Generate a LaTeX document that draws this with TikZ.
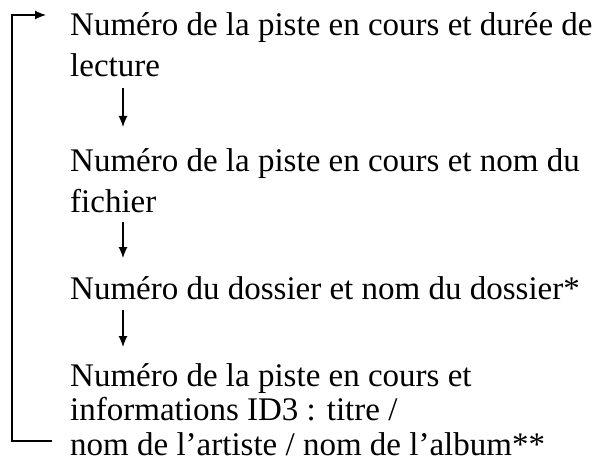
\documentclass[tikz,border=0pt]{standalone}
\usepackage{fontspec}
\setmainfont{Liberation Serif}
\usetikzlibrary{arrows.meta}

\tikzset{
    line/.style={anchor=base west, inner sep=0pt, font=\fontsize{33}{38}\selectfont},
    flow/.style={line width=1.2pt, -{Latex[length=11pt,width=9pt]}}
}

\begin{document}
\begin{tikzpicture}[x=1pt, y=1pt]
    \useasboundingbox (0, 0) rectangle (593, -462);
    \node[line] (a1) at (70, -36) {Numéro de la piste en cours et durée de};
    \node[line] (a2) at (70, -77) {lecture};
    \node[line] (b1) at (70, -172) {Numéro de la piste en cours et nom du};
    \node[line] (b2) at (70, -212) {fichier};
    \node[line] (c1) at (70, -299) {Numéro du dossier et nom du dossier*};
    \node[line] (d1) at (70, -386) {Numéro de la piste en cours et};
    \node[line] (d2) at (70, -420) {informations ID3 : titre /};
    \node[line] (d3) at (70, -455) {nom de l’artiste / nom de l’album**};
    \coordinate (ab1) at (123, -88);
    \coordinate (ab2) at (123, -127);
    \coordinate (bc1) at (123, -222);
    \coordinate (bc2) at (123, -258);
    \coordinate (cd1) at (123, -310);
    \coordinate (cd2) at (123, -347);
    \coordinate (back) at (52, -441);
    \coordinate (loop) at (12, -441);
    \coordinate (top) at (12, -15);
    \coordinate (start) at (46, -15);
    \draw[flow] (ab1) -- (ab2);
    \draw[flow] (bc1) -- (bc2);
    \draw[flow] (cd1) -- (cd2);
    \draw[flow] (back) -- (loop) -- (top) -- (start);
\end{tikzpicture}
\end{document}
